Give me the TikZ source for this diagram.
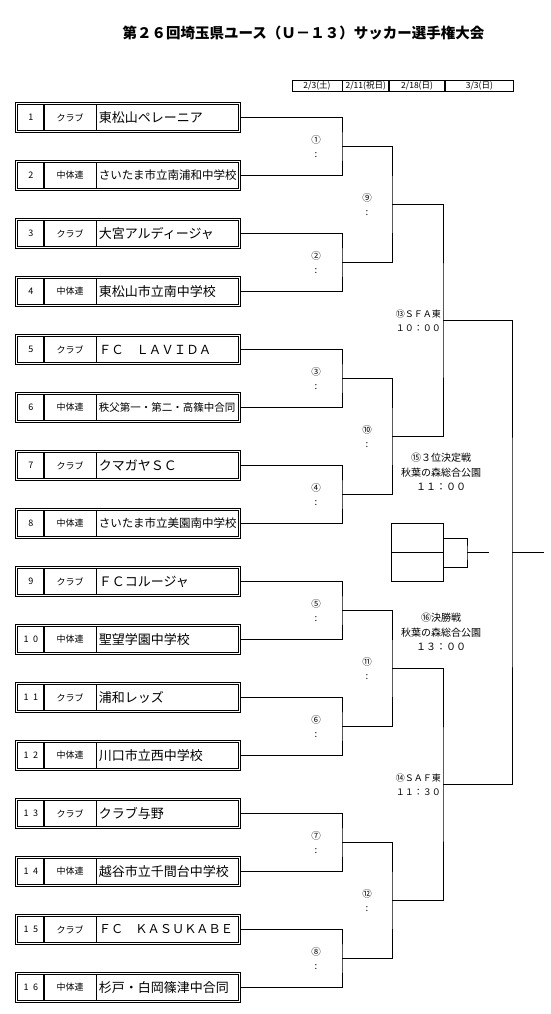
\documentclass[tikz,border=0pt]{standalone}
\usepackage{fontspec}
\setmainfont{Noto Sans CJK JP}
\usetikzlibrary{positioning,calc}

\begin{document}
\begin{tikzpicture}[
x=1pt, y=-1pt,
every node/.style={inner sep=0pt},
line/.style={line width=1pt},
teambox/.style={
draw,
double,
double distance=1.4pt,
line width=0.7pt,
minimum width=223pt,
minimum height=27.5pt
},
numcell/.style={minimum width=26.5pt, minimum height=25.4pt,
font=\fontsize{9}{9}\selectfont\addfontfeature{LetterSpace=50}},
catcell/.style={minimum width=51.5pt, minimum height=25.4pt,
font=\fontsize{9}{10}\selectfont},
namecell/.style={text width=138pt, minimum height=25.4pt, inner xsep=2.5pt, align=left},
datecell/.style={draw, line width=0.8pt, text height=8.9pt, text depth=2.1pt,
font=\fontsize{8.5}{9}\selectfont},
slot/.style={draw, line width=1pt, minimum width=52pt, minimum height=29pt},
circnum/.style={font=\fontsize{9.5}{10}\selectfont},
semilbl/.style={anchor=east, align=right, font=\fontsize{9}{14}\selectfont},
venue/.style={align=center, font=\fontsize{10}{14.5}\selectfont}
]
\useasboundingbox (0,0) rectangle (551,1014);

% Title
\node[font=\fontsize{14.5}{14.5}\selectfont\bfseries] (title) at (303.5,33)
{第２６回埼玉県ユース（Ｕ－１３）サッカー選手権大会};

% Dates
\node[datecell, minimum width=50pt] (d1) at (317,85.5) {2/3(土)};
\node[datecell, minimum width=46pt, right=0pt of d1] (d2) {2/11(祝日)};
\node[datecell, minimum width=55pt, right=0pt of d2] (d3) {2/18(日)};
\node[datecell, minimum width=68pt, right=0pt of d3] (d4) {3/3(日)};

% Teams
\foreach \i/\cat/\name/\fs in {
1/クラブ/東松山ペレーニア/13,
2/中体連/さいたま市立南浦和中学校/11.5,
3/クラブ/大宮アルディージャ/13,
4/中体連/東松山市立南中学校/13,
5/クラブ/ＦＣ　ＬＡＶＩＤＡ/12.5,
6/中体連/秩父第一・第二・高篠中合同/10.5,
7/クラブ/クマガヤＳＣ/13,
8/中体連/さいたま市立美園南中学校/11.5,
9/クラブ/ＦＣコルージャ/13,
10/中体連/聖望学園中学校/13,
11/クラブ/浦和レッズ/13,
12/中体連/川口市立西中学校/13,
13/クラブ/クラブ与野/13,
14/中体連/越谷市立千間台中学校/13,
15/クラブ/ＦＣ　ＫＡＳＵＫＡＢＥ/12.2,
16/中体連/杉戸・白岡篠津中合同/13}{
\pgfmathsetmacro\yy{117.5+58*(\i-1)}
\node[teambox] (t\i) at (128,\yy) {};
\node[numcell] (n\i) at (30.8,\yy) {\i};
\node[catcell, right=0pt of n\i] (c\i) {\cat};
\node[namecell, right=0pt of c\i] (nm\i) {\fontsize{\fs}{\fs}\selectfont\name};
\draw[line width=1.6pt] (n\i.north east) -- (n\i.south east);
\draw[line width=0.8pt] (c\i.north east) -- (c\i.south east);
}

% Match points
\foreach \k in {1,...,8}
\coordinate (m\k) at (342,{146.5+116*(\k-1)});
\foreach \k in {9,...,12}
\coordinate (m\k) at (392,{204.5+232*(\k-9)});
\coordinate (m13) at (443,320.5);
\coordinate (m14) at (443,784.5);
\coordinate (fin) at (512,552.5);
\coordinate (champ) at (544,552.5);

% First round
\foreach \k/\lab in {1/①,2/②,3/③,4/④,5/⑤,6/⑥,7/⑦,8/⑧}{
\pgfmathtruncatemacro\a{2*\k-1}
\pgfmathtruncatemacro\b{2*\k}
\draw[line] (t\a.east) -| (m\k) |- (t\b.east);
\node[circnum] (g\k) at ($(m\k)+(-26,-6.5)$) {\lab};
\node[circnum] (s\k) at ($(m\k)+(-26,8.5)$) {:};
}

% Second round
\foreach \k/\a/\b/\lab in {9/1/2/⑨,10/3/4/⑩,11/5/6/⑪,12/7/8/⑫}{
\draw[line] (m\a) -| (m\k) |- (m\b);
\node[circnum] (g\k) at ($(m\k)+(-25,-6.5)$) {\lab};
\node[circnum] (s\k) at ($(m\k)+(-25,8.5)$) {:};
}

% Semi finals and final
\draw[line] (m9) -| (m13) |- (m10);
\draw[line] (m11) -| (m14) |- (m12);
\draw[line] (m13) -| (fin) |- (m14);
\draw[line] (fin) -- (champ);

\node[semilbl] (sf1) at ($(m13)+(-2,0.5)$) {⑬ＳＦＡ東\\１０：００};
\node[semilbl] (sf2) at ($(m14)+(-2,0)$) {⑭ＳＡＦ東\\１１：３０};

% Third place
\node[slot] (slot1) at (417,538) {};
\node[slot] (slot2) at (417,567) {};
\coordinate (tp) at (467,552.5);
\coordinate (tpw) at (489,552.5);
\draw[line] (slot1.east) -| (tp) |- (slot2.east);
\draw[line] (tp) -- (tpw);

\node[venue] (third) at (441,472) {⑮３位決定戦\\秋葉の森総合公園\\１１：００};
\node[venue] (final) at (441,632) {⑯決勝戦\\秋葉の森総合公園\\１３：００};

\end{tikzpicture}
\end{document}
